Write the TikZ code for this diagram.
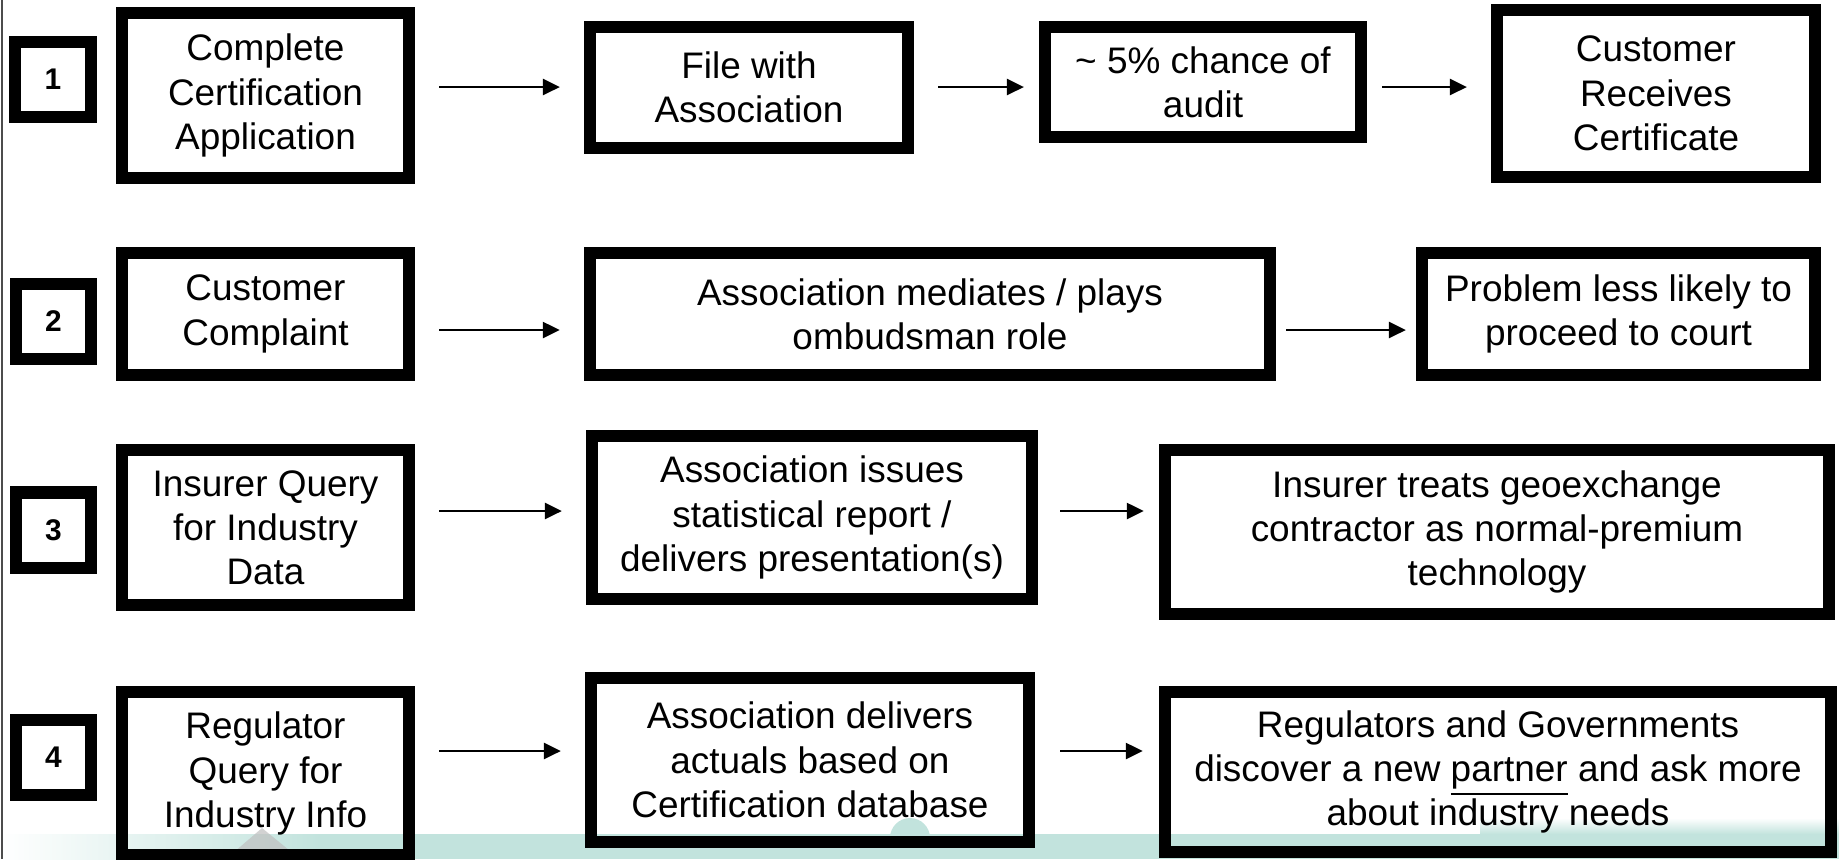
\documentclass[tikz,border=0pt]{standalone}
\usepackage{fontspec}
\setmainfont{Liberation Sans}
\usepackage{xcolor}
\usetikzlibrary{arrows.meta,calc}
\definecolor{bandteal}{RGB}{194,227,221}

\begin{document}
\begin{tikzpicture}[x=0.01cm,y=-0.01cm,
  box/.style={draw,line width=0.12cm,align=center,inner sep=0pt,
    font=\fontsize{10.5}{12.6}\selectfont},
  numbox/.style={box,minimum width=0.75cm,minimum height=0.75cm,
    font=\fontsize{8.5}{10}\selectfont\bfseries},
  flow/.style={line width=0.025cm,-{Triangle[length=0.17cm,width=0.16cm]}},
  gap/.style 2 args={shorten <=#1,shorten >=#2}]
  \useasboundingbox (0,0) rectangle (1839,859);
  \shade[left color=white,right color=bandteal] (0,834) rectangle (320,859);
  \fill[bandteal] (320,834) rectangle (1839,859);
  \shade[top color=white,bottom color=bandteal] (1480,818) rectangle (1839,834);
  \fill[bandteal] (910,838) circle (20);
  \fill[gray!50,opacity=.7] (262,828) -- (300,859) -- (226,859) -- cycle;
  \draw[line width=0.02cm,black!70] (2,0) -- (2,859);

  \node[numbox] (n1) at (53,79.5) {1};
  \node[numbox] (n2) at (53.5,321.5) {2};
  \node[numbox] (n3) at (53.5,530) {3};
  \node[numbox] (n4) at (53.5,757) {4};

  \node[box,minimum width=2.87cm,minimum height=1.65cm] (b11) at (265.5,95.5) {Complete\\Certification\\Application};
  \node[box,minimum width=3.18cm,minimum height=1.21cm] (b12) at (749,87.5) {File with\\Association};
  \node[box,minimum width=3.16cm,minimum height=1.10cm] (b13) at (1203,82) {\textasciitilde\ 5\% chance of\\audit};
  \node[box,minimum width=3.18cm,minimum height=1.67cm] (b14) at (1656,93.5) {Customer\\Receives\\Certificate};

  \node[box,minimum width=2.87cm,minimum height=1.21cm] (b21) at (265.5,314) {Customer\\Complaint};
  \node[box,minimum width=6.80cm,minimum height=1.21cm] (b22) at (930,314) {Association mediates / plays\\ombudsman role};
  \node[box,minimum width=3.93cm,minimum height=1.21cm] (b23) at (1618.5,314) {Problem less likely to\\proceed to court};

  \node[box,minimum width=2.87cm,minimum height=1.55cm] (b31) at (265.5,527.7) {Insurer Query\\for Industry\\Data};
  \node[box,minimum width=4.40cm,minimum height=1.63cm] (b32) at (812,517.5) {Association issues\\statistical report /\\delivers presentation(s)};
  \node[box,minimum width=6.64cm,minimum height=1.63cm] (b33) at (1497,532) {Insurer treats geoexchange\\contractor as normal-premium\\technology};

  \node[box,minimum width=2.87cm,minimum height=1.63cm] (b41) at (265.5,773.5) {Regulator\\Query for\\Industry Info};
  \node[box,minimum width=4.38cm,minimum height=1.64cm] (b42) at (810,760) {Association delivers\\actuals based on\\Certification database};
  \node[box,minimum width=6.66cm,minimum height=1.59cm] (b43) at (1498,772) {Regulators and Governments\\discover a new \underline{partner} and ask more\\about industry needs};

  \coordinate (r1) at (0,87);
  \coordinate (r2) at (0,330);
  \coordinate (r3) at (0,511);
  \coordinate (r4) at (0,751);

  \draw[flow,gap={0.24cm}{0.24cm}] (b11.east |- r1) -- (b12.west |- r1);
  \draw[flow,gap={0.24cm}{0.15cm}] (b12.east |- r1) -- (b13.west |- r1);
  \draw[flow,gap={0.15cm}{0.24cm}] (b13.east |- r1) -- (b14.west |- r1);
  \draw[flow,gap={0.24cm}{0.24cm}] (b21.east |- r2) -- (b22.west |- r2);
  \draw[flow,gap={0.10cm}{0.10cm}] (b22.east |- r2) -- (b23.west |- r2);
  \draw[flow,gap={0.24cm}{0.24cm}] (b31.east |- r3) -- (b32.west |- r3);
  \draw[flow,gap={0.22cm}{0.15cm}] (b32.east |- r3) -- (b33.west |- r3);
  \draw[flow,gap={0.24cm}{0.24cm}] (b41.east |- r4) -- (b42.west |- r4);
  \draw[flow,gap={0.25cm}{0.16cm}] (b42.east |- r4) -- (b43.west |- r4);
\end{tikzpicture}
\end{document}
